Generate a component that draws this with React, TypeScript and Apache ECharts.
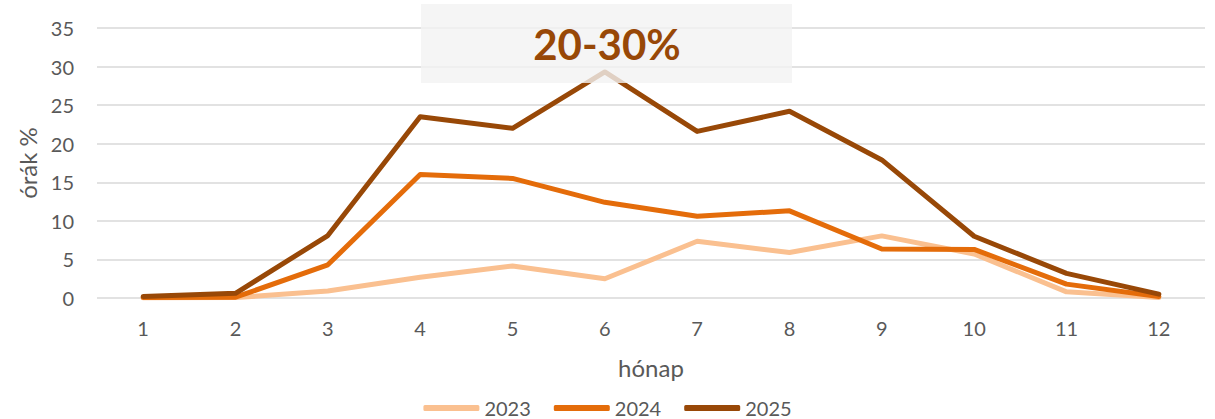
import React, { useEffect, useRef } from "react";
import * as echarts from "echarts";

const months = ["1", "2", "3", "4", "5", "6", "7", "8", "9", "10", "11", "12"];
const s2023 = [0.0, 0.05, 0.9, 2.7, 4.15, 2.5, 7.35, 5.9, 8.05, 5.7, 0.8, 0.05];
const s2024 = [0.05, 0.1, 4.3, 16.0, 15.5, 12.4, 10.6, 11.3, 6.35, 6.3, 1.8, 0.2];
const s2025 = [0.2, 0.6, 8.1, 23.5, 22.0, 29.3, 21.6, 24.2, 17.9, 8.0, 3.2, 0.5];
const seriesNames = ["2023", "2024", "2025"];
const seriesColors = ["#FAC090", "#E46C0A", "#984807"];
const titleText = "20-30%";
const xName = "hónap";
const yName = "órák %";

const FONT = "Lato, 'Open Sans', sans-serif";
const TXT = "#595959";

export default function App() {
  const ref = useRef<HTMLDivElement>(null);
  useEffect(() => {
    document.body.style.margin = "0";
    const chart = echarts.init(ref.current!, null, { renderer: "svg" });
    const data = [s2023, s2024, s2025];
    chart.setOption({
      animation: false,
      textStyle: { fontFamily: FONT },
      grid: { left: 97, right: 10, top: 28, bottom: 121, containLabel: false },
      legend: {
        left: "center",
        top: 393,
        icon: "roundRect",
        itemWidth: 56,
        itemHeight: 6,
        itemGap: 23,
        textStyle: { color: TXT, fontSize: 20, fontFamily: FONT },
        data: seriesNames,
      },
      xAxis: {
        type: "category",
        data: months,
        boundaryGap: true,
        name: xName,
        nameLocation: "middle",
        nameGap: 57,
        nameTextStyle: { color: TXT, fontSize: 24, fontFamily: FONT },
        axisLine: { show: false },
        axisTick: { show: false },
        axisLabel: { color: TXT, fontSize: 20, margin: 20, fontFamily: FONT },
      },
      yAxis: {
        type: "value",
        min: 0,
        max: 35,
        interval: 5,
        name: yName,
        nameLocation: "middle",
        nameGap: 58,
        nameRotate: 90,
        nameTextStyle: { color: TXT, fontSize: 24, fontFamily: FONT },
        axisLine: { show: false },
        axisTick: { show: false },
        axisLabel: { color: TXT, fontSize: 20, margin: 23, fontFamily: FONT },
        splitLine: { lineStyle: { color: "#D9D9D9", width: 1.5 } },
      },
      series: seriesNames.map((n, i) => ({
        name: n,
        type: "line",
        data: data[i],
        symbol: "none",
        color: seriesColors[i],
        itemStyle: { color: seriesColors[i] },
        lineStyle: { color: seriesColors[i], width: 5, cap: "round", join: "round" },
      })),
      graphic: [
        {
          type: "rect",
          z: 100,
          shape: { x: 421, y: 4, width: 371, height: 79 },
          style: { fill: "#F2F2F2", opacity: 0.8 },
        },
        {
          type: "text",
          z: 101,
          x: 607,
          y: 44,
          style: {
            text: titleText,
            fill: "#984807",
            font: `bold 42px ${FONT}`,
            align: "center",
            verticalAlign: "middle",
          },
        },
      ],
    });
    return () => chart.dispose();
  }, []);
  return <div ref={ref} style={{ width: 1215, height: 419 }} />;
}
